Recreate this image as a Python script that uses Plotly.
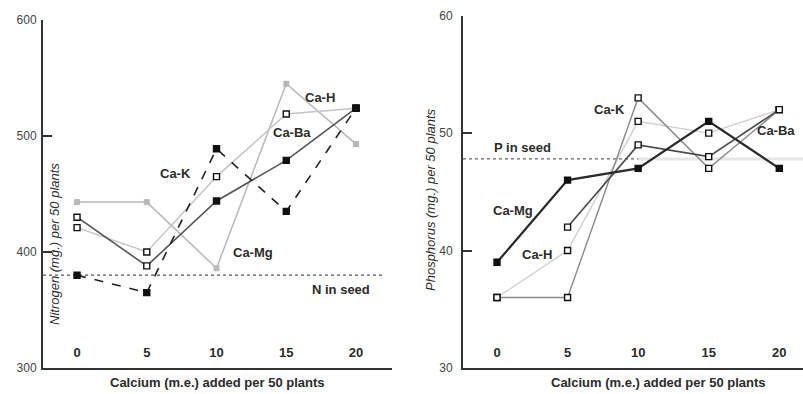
import plotly.graph_objects as go

# ---------------- data ----------------
CALCIUM = [0, 5, 10, 15, 20]
X_TICKS = [0, 5, 10, 15, 20]

# Nitrogen (mg.) per 50 plants
N_CA_K = [380, 365, 489, 435, 524]
N_CA_BA = [430, 388, 444, 479, 524]
N_CA_H = [421, 400, 465, 519, 524]
N_CA_MG = [443, 443, 386, 545, 493]
N_SEED = 380
N_TICKS = [300, 400, 500, 600]

# Phosphorus (mg.) per 50 plants
P_CA_MG = [39, 46, 47, 51, 47]
P_CA_H = [36, 40, 51, 50, 52]
P_CA_K = [36, 36, 53, 47, 52]
P_CA_BA = [None, 42, 49, 48, 52]
P_SEED = 47.8
P_TICKS = [30, 40, 50, 60]

FONT = "Liberation Sans, Arial, sans-serif"
INK = "#2b2b2b"
W, H = 803, 394

fig = go.Figure()

def sq(fill):
    return dict(symbol="square", size=6, color=fill, line=dict(color="#111", width=1.4))

# ---- left panel ----
fig.add_trace(go.Scatter(x=CALCIUM, y=N_CA_MG, mode="lines+markers",
    line=dict(color="#b8b8b8", width=1.5),
    marker=dict(symbol="square", size=6, color="#b8b8b8"), xaxis="x", yaxis="y"))
fig.add_trace(go.Scatter(x=CALCIUM, y=N_CA_H, mode="lines+markers",
    line=dict(color="#c4c4c4", width=1.5),
    marker=sq(["white", "white", "white", "white", "#111"]), xaxis="x", yaxis="y"))
fig.add_trace(go.Scatter(x=CALCIUM, y=N_CA_BA, mode="lines+markers",
    line=dict(color="#555555", width=1.6),
    marker=sq(["white", "white", "#111", "#111", "#111"]), xaxis="x", yaxis="y"))
fig.add_trace(go.Scatter(x=CALCIUM, y=N_CA_K, mode="lines+markers",
    line=dict(color="#222222", width=1.6, dash="dash"),
    marker=sq("#111"), xaxis="x", yaxis="y"))

# ---- right panel ----
fig.add_trace(go.Scatter(x=CALCIUM, y=P_CA_H, mode="lines+markers",
    line=dict(color="#cfcfcf", width=1.4),
    marker=sq("white"), xaxis="x2", yaxis="y2"))
fig.add_trace(go.Scatter(x=CALCIUM, y=P_CA_K, mode="lines+markers",
    line=dict(color="#8a8a8a", width=1.4),
    marker=sq("white"), xaxis="x2", yaxis="y2"))
fig.add_trace(go.Scatter(x=CALCIUM, y=P_CA_BA, mode="lines+markers",
    line=dict(color="#4a4a4a", width=1.6),
    marker=sq("white"), xaxis="x2", yaxis="y2"))
fig.add_trace(go.Scatter(x=CALCIUM, y=P_CA_MG, mode="lines+markers",
    line=dict(color="#2a2a2a", width=2.2),
    marker=sq("#111"), xaxis="x2", yaxis="y2"))

LX_DOM = [43 / W, 392 / W]
RX_DOM = [463 / W, 1.0]
LX_RANGE = [-2.44, 22.58]
RX_RANGE = [-2.41, 21.68]

base = dict(showgrid=False, zeroline=False, automargin=False)
xline = dict(base, showline=True, linecolor="#333", linewidth=2, ticks="",
             showticklabels=False)
xlabels = dict(base, showline=False, ticks="", tickvals=X_TICKS, anchor="free",
               position=1 - 343 / H,
               tickfont=dict(family=FONT, size=13, color=INK, weight="bold"))
ycommon = dict(base, showline=True, linecolor="#333", linewidth=2,
               ticks="inside", ticklen=9, tickwidth=2, tickcolor="#333",
               tickfont=dict(family=FONT, size=12, color="#444"))

fig.update_layout(
    width=W, height=H,
    margin=dict(l=0, r=0, t=0, b=0, pad=0),
    paper_bgcolor="white", plot_bgcolor="white",
    showlegend=False,
    xaxis=dict(xline, domain=LX_DOM, range=LX_RANGE, anchor="y"),
    yaxis=dict(ycommon, domain=[26 / H, 374 / H], range=[300, 600], tickvals=N_TICKS,
               anchor="x", ticklabelstandoff=2),
    xaxis2=dict(xline, domain=RX_DOM, range=RX_RANGE, anchor="y2"),
    yaxis2=dict(ycommon, domain=[26 / H, 378.3 / H], range=[30, 60], tickvals=P_TICKS,
                anchor="x2", ticklabelstandoff=6),
    xaxis3=dict(xlabels, domain=LX_DOM, range=LX_RANGE, overlaying="x"),
    xaxis4=dict(xlabels, domain=RX_DOM, range=RX_RANGE, overlaying="x2"),
)
# invisible carriers so the label axes are drawn
fig.add_trace(go.Scatter(x=X_TICKS, y=[None] * 5, xaxis="x3", yaxis="y",
                         mode="markers", hoverinfo="skip", showlegend=False))
fig.add_trace(go.Scatter(x=X_TICKS, y=[None] * 5, xaxis="x4", yaxis="y2",
                         mode="markers", hoverinfo="skip", showlegend=False))

# reference lines
fig.add_shape(type="line", xref="x domain", yref="y", x0=0, x1=0.974, y0=N_SEED, y1=N_SEED,
              line=dict(color="#555", width=1.3, dash="dot"), layer="below")
fig.add_shape(type="line", xref="x2", yref="y2", x0=10, x1=RX_RANGE[1], y0=P_SEED, y1=P_SEED,
              line=dict(color="#e6e6e6", width=3), layer="below")
fig.add_shape(type="line", xref="x2 domain", yref="y2", x0=0, x1=1, y0=P_SEED, y1=P_SEED,
              line=dict(color="#666", width=1.3, dash="dot"), layer="below")

lab = dict(family=FONT, size=13, color=INK, weight="bold")

def note(text, x, y, xr, yr):
    fig.add_annotation(text=text, x=x, y=y, xref=xr, yref=yr, showarrow=False, font=lab,
                       xanchor="center", yanchor="middle")

note("Ca-K", 7.03, 468, "x", "y")
note("Ca-H", 17.4, 533, "x", "y")
note("Ca-Ba", 15.4, 503, "x", "y")
note("Ca-Mg", 12.6, 400, "x", "y")
note("N in seed", 18.9, 368, "x", "y")

note("Ca-K", 8.0, 52.0, "x2", "y2")
note("Ca-Ba", 19.8, 50.2, "x2", "y2")
note("P in seed", 1.77, 48.8, "x2", "y2")
note("Ca-Mg", 1.15, 43.4, "x2", "y2")
note("Ca-H", 2.83, 39.7, "x2", "y2")

def paper_note(text, px, py, font, angle=0):
    fig.add_annotation(text=text, x=px / W, y=1 - py / H, xref="paper", yref="paper",
                       showarrow=False, textangle=angle, font=font,
                       xanchor="center", yanchor="middle")

xt = dict(family=FONT, size=13, color=INK, weight="bold")
paper_note("Calcium (m.e.) added per 50 plants", 218, 382, xt)
paper_note("Calcium (m.e.) added per 50 plants", 658, 382, xt)
yt = dict(family=FONT, size=13, color=INK, style="italic")
paper_note("Nitrogen (mg.) per 50 plants", 54, 244, yt, -90)
paper_note("Phosphorus (mg.) per 50 plants", 430, 200, yt, -90)

fig.write_html("out.html")
